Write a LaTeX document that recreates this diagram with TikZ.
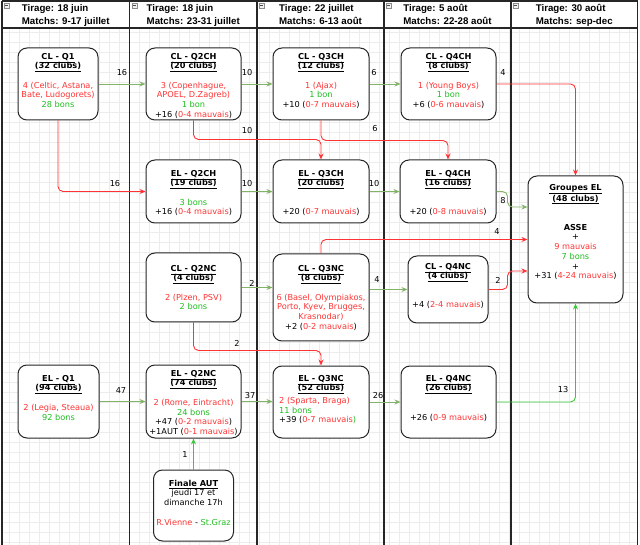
\documentclass[tikz,border=0pt]{standalone}
\usepackage{fontspec}
\newfontfamily\boxfont{DejaVu Sans}
\newfontfamily\headfont{Liberation Sans}
\usetikzlibrary{arrows.meta,calc}
\definecolor{tred}{RGB}{255,51,51}
\definecolor{tgreen}{RGB}{30,190,30}
\definecolor{lgreen}{RGB}{130,179,102}
\definecolor{lred}{RGB}{255,51,51}
\definecolor{bgreen}{RGB}{60,200,60}
\definecolor{gridc}{RGB}{236,236,236}
\newcommand\myul[1]{\underline{\textbf{#1}}}
\newcommand\myr[1]{\textcolor{tred}{#1}}
\newcommand\myg[1]{\textcolor{tgreen}{#1}}
\newcommand\fs{\rule{0pt}{7pt}}
\newcommand\hs{\rule{0pt}{8pt}}
\begin{document}
\begin{tikzpicture}[x=1pt,y=-1pt,
  box/.style={draw=black!85,line width=1pt,rounded corners=9pt,fill=white,inner sep=0pt},
  txt/.style={anchor=north,inner sep=0pt,align=center,font=\boxfont\fontsize{8.2}{9.7}\selectfont},
  txtl/.style={anchor=north west,inner sep=0pt,align=left,font=\boxfont\fontsize{8.2}{9.7}\selectfont},
  lbl/.style={inner sep=0pt,font=\boxfont\fontsize{8.2}{9.7}\selectfont},
  head/.style={anchor=north,inner sep=0pt,align=left,font=\headfont\bfseries\fontsize{9.7}{13.2}\selectfont},
  lane/.style={draw=black!85,line width=1.2pt},
  icon/.style={draw=black!45,fill=black!6,line width=0.5pt},
  gc/.style={draw=lgreen,line width=0.9pt,-{Stealth[length=6pt,width=5pt]}},
  rc/.style={draw=lred,line width=0.9pt,rounded corners=5pt,-{Stealth[length=6pt,width=5pt]}},
  bc/.style={draw=bgreen,line width=0.9pt,rounded corners=5pt,-{Stealth[length=6pt,width=5pt]}}
]
\useasboundingbox (0,0) rectangle (640,545);
% background grid
\foreach \x in {9.5,19.5,...,629.5} \draw[gridc,line width=0.4pt] (\x,28) -- (\x,545);
\foreach \y in {32.5,42.5,...,542.5} \draw[gridc,line width=0.4pt] (2,\y) -- (637.5,\y);
% header
\fill[white] (2,1) rectangle (637.5,28);
\draw[lane] (2,1) -- (637.5,1);
\draw[lane] (2,28) -- (637.5,28);
\foreach \x in {2,129.5,257,384,511,637.5} \draw[lane] (\x,1) -- (\x,545);
\foreach \x in {2,129.5,257,384,511} {
  \draw[icon] (\x+2.3,3.3) rectangle (\x+7.3,8.3);
  \draw[black!70,line width=0.7pt] (\x+3.3,5.8) -- (\x+6.3,5.8);
}
\node[head] (h1) at (65.75,3.5) {\hs Tirage: 18 juin\\Matchs: 9-17 juillet};
\node[head] (h2) at (193.25,3.5) {\hs Tirage: 18 juin\\Matchs: 23-31 juillet};
\node[head] (h3) at (320.5,3.5) {\hs Tirage: 22 juillet\\Matchs: 6-13 août};
\node[head] (h4) at (447.5,3.5) {\hs Tirage: 5 août\\Matchs: 22-28 août};
\node[head] (h5) at (574.25,3.5) {\hs Tirage: 30 août\\Matchs: sep-dec};

% boxes
\node[box,minimum width=80pt,minimum height=72pt] (clq1) at (58,84) {};
\node[box,minimum width=95pt,minimum height=72pt] (clq2ch) at (193.5,84) {};
\node[box,minimum width=96pt,minimum height=72pt] (clq3ch) at (321,84) {};
\node[box,minimum width=95pt,minimum height=72pt] (clq4ch) at (448.5,84) {};
\node[box,minimum width=95pt,minimum height=63pt] (elq2ch) at (193.5,191.5) {};
\node[box,minimum width=96pt,minimum height=63pt] (elq3ch) at (321,191.5) {};
\node[box,minimum width=96pt,minimum height=63pt] (elq4ch) at (448,191.5) {};
\node[box,minimum width=95pt,minimum height=69pt] (clq2nc) at (193.5,287.5) {};
\node[box,minimum width=96pt,minimum height=87pt] (clq3nc) at (321,297.5) {};
\node[box,minimum width=80pt,minimum height=67pt] (clq4nc) at (448,289.5) {};
\node[box,minimum width=95pt,minimum height=127pt] (groupes) at (575.5,239.5) {};
\node[box,minimum width=81pt,minimum height=73pt] (elq1) at (58.5,401.5) {};
\node[box,minimum width=95pt,minimum height=73pt] (elq2nc) at (193.5,401.5) {};
\node[box,minimum width=96pt,minimum height=72pt] (elq3nc) at (321,402) {};
\node[box,minimum width=95pt,minimum height=72pt] (elq4nc) at (448.5,402) {};
\node[box,minimum width=80pt,minimum height=71pt] (finale) at (193.5,505.5) {};

% box texts
\node[txt] (t1) at (58,52) {\fs\myul{CL - Q1}\\ \myul{(32 clubs)}\\[9.7pt] \myr{4 (Celtic, Astana,}\\ \myr{Bate, Ludogorets)}\\ \myg{28 bons}};
\node[txt] (t2) at (193.5,52) {\fs\myul{CL - Q2CH}\\ \myul{(20 clubs)}\\[9.7pt] \myr{3 (Copenhague,}\\ \myr{APOEL, D.Zagreb)}\\ \myg{1 bon}\\ +16 (\myr{0-4 mauvais})};
\node[txt] (t3) at (321,52) {\fs\myul{CL - Q3CH}\\ \myul{(12 clubs)}\\[9.7pt] \myr{1 (Ajax)}\\ \myg{1 bon}\\ +10 (\myr{0-7 mauvais})};
\node[txt] (t4) at (448.5,52) {\fs\myul{CL - Q4CH}\\ \myul{(8 clubs)}\\[9.7pt] \myr{1 (Young Boys)}\\ \myg{1 bon}\\ +6 (\myr{0-6 mauvais})};
\node[txt] (t5) at (193.5,169) {\fs\myul{EL - Q2CH}\\ \myul{(19 clubs)}\\[9.7pt] \myg{3 bons}\\ +16 (\myr{0-4 mauvais})};
\node[txt] (t6) at (321,169) {\fs\myul{EL - Q3CH}\\ \myul{(20 clubs)}\\[19.4pt] +20 (\myr{0-7 mauvais})};
\node[txt] (t7) at (448,169) {\fs\myul{EL - Q4CH}\\ \myul{(16 clubs)}\\[19.4pt] +20 (\myr{0-8 mauvais})};
\node[txt] (t8) at (193.5,264) {\fs\myul{CL - Q2NC}\\ \myul{(4 clubs)}\\[9.7pt] \myr{2 (Plzen, PSV)}\\ \myg{2 bons}};
\node[txt] (t9) at (321,264) {\fs\myul{CL - Q3NC}\\ \myul{(8 clubs)}\\[9.7pt] \myr{6 (Basel, Olympiakos,}\\ \myr{Porto, Kyev, Brugges,}\\ \myr{Krasnodar)}\\ +2 (\myr{0-2 mauvais})};
\node[txt] (t10) at (448,262) {\fs\myul{CL - Q4NC}\\ \myul{(4 clubs)}\\[19.4pt] +4 (\myr{2-4 mauvais})};
\node[txt] (t11) at (575.5,183) {\fs\myul{Groupes EL}\\ \myul{(48 clubs)}\\[19.4pt] \textbf{ASSE}\\ +\\ \myr{9 mauvais}\\ \myg{7 bons}\\ +\\ +31 (\myr{4-24 mauvais})};
\node[txt] (t12) at (58.5,374) {\fs\myul{EL - Q1}\\ \myul{(94 clubs)}\\[9.7pt] \myr{2 (Legia, Steaua)}\\ \myg{92 bons}};
\node[txt] (t13) at (193.5,369) {\fs\myul{EL - Q2NC}\\ \myul{(74 clubs)}\\[9.7pt] \myr{2 (Rome, Eintracht)}\\ \myg{24 bons}\\ +47 (\myr{0-2 mauvais})\\ +1AUT (\myr{0-1 mauvais})};
\node[txt] (t14) at (321,374) {\fs\myul{EL - Q3NC}\\ \myul{(52 clubs)}};
\node[txtl] (t14b) at (279,396.1) {\fs\myr{2 (Sparta, Braga)}\\ \myg{11 bons}\\ +39 (\myr{0-7 mauvais}\myg{)}};
\node[txt] (t15) at (448.5,374) {\fs\myul{EL - Q4NC}\\ \myul{(26 clubs)}\\[19.4pt] +26 (\myr{0-9 mauvais})};
\node[txt] (t16) at (193.5,479) {\fs\myul{Finale AUT}\\ jeudi 17 et\\ dimanche 17h\\[9.7pt] \myr{R.Vienne} - \myg{St.Graz}};

% connectors
\draw[gc] (clq1.east) -- (clq2ch.west);
\draw[gc] (clq2ch.east) -- (clq3ch.west);
\draw[gc] (clq3ch.east) -- (clq4ch.west);
\draw[rc] (clq4ch.east) -| (groupes.north);
\draw[rc] (clq1.south) |- (elq2ch.west);
\draw[rc] (clq2ch.south) -- ++(0,19) -| (elq3ch.north);
\draw[rc] (clq3ch.south) -- ++(0,20) -| (elq4ch.north);
\draw[gc] (elq2ch.east) -- (elq3ch.west);
\draw[gc] (elq3ch.east) -- (elq4ch.west);
\draw[gc,rounded corners=5pt] (elq4ch.east) -- ++(11,0) |- ($(groupes.west)+(0,-32.5)$);
\draw[rc] (clq3nc.north) |- (groupes.west);
\draw[gc] (clq2nc.east) -- (clq2nc.east -| clq3nc.west);
\draw[gc] (clq3nc.east |- clq4nc.west) -- (clq4nc.west);
\draw[rc] (clq4nc.east) -- ++(19,0) |- ($(groupes.west)+(0,31.5)$);
\draw[rc] (clq2nc.south) -- ++(0,28) -| (elq3nc.north);
\draw[gc] (elq1.east) -- (elq2nc.west);
\draw[gc] (elq2nc.east) -- (elq2nc.east -| elq3nc.west);
\draw[gc] (elq3nc.east) -- (elq4nc.west);
\draw[bc] (elq4nc.east) -| (groupes.south);
\draw[bc] (finale.north) -- (elq2nc.south);

% connector labels
\node[lbl] (l1) at (122,73) {16};
\node[lbl] (l2) at (247,73) {10};
\node[lbl] (l3) at (374,73) {6};
\node[lbl] (l4) at (503,73) {4};
\node[lbl] (l5) at (115,184) {16};
\node[lbl] (l6) at (247,131) {10};
\node[lbl] (l7) at (375,129) {6};
\node[lbl] (l8) at (247,184) {10};
\node[lbl] (l9) at (374,184) {10};
\node[lbl] (l10) at (503,201) {8};
\node[lbl] (l11) at (497,232) {4};
\node[lbl] (l12) at (252,283) {2};
\node[lbl] (l13) at (377,280) {4};
\node[lbl] (l14) at (498,280) {2};
\node[lbl] (l15) at (237,343) {2};
\node[lbl] (l16) at (121,391) {47};
\node[lbl] (l17) at (250,396) {37};
\node[lbl] (l18) at (378,396) {26};
\node[lbl] (l19) at (563,390) {13};
\node[lbl] (l20) at (185,455) {1};
\end{tikzpicture}
\end{document}
